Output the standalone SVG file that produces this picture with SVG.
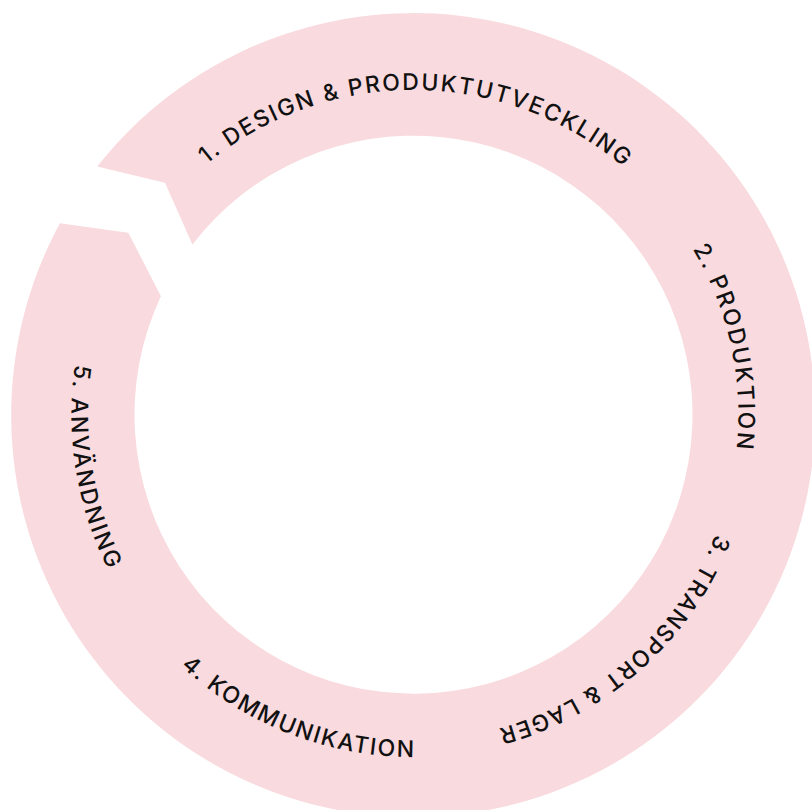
<svg xmlns="http://www.w3.org/2000/svg" width="812" height="810" viewBox="0 0 812 810">
  <style>
    .ring { fill: #F9DADE; stroke: none; }
    .lbl { font-family: Inter, "Liberation Sans", Arial, sans-serif; font-size: 23px; font-weight: 500; fill: #111111; }
  </style>
  <defs>
    <path id="p1" d="M 206.6 164.2 A 325 325 0 0 1 696.2 255.0" fill="none"/>
    <path id="p2" d="M 692.8 249.1 A 325 325 0 0 1 694.8 577.5" fill="none"/>
    <path id="p3" d="M 715.7 534.1 A 325 325 0 0 1 413.3 740" fill="none"/>
    <path id="p4" d="M 180.9 665.9 A 342 342 0 0 0 530.3 736.4" fill="none"/>
    <path id="p5" d="M 75.1 364.4 A 342 342 0 0 0 193.5 677.0" fill="none"/>
  </defs>
  <g id="connectors">
    <path id="cycle-ring" class="ring" d="M 97.2 166.6 A 402 402 0 1 1 59.9 223.3 L 128.3 232.7 L 160.9 296.2 A 279 279 0 1 0 192.4 244.5 L 165 182.7 Z"/>
  </g>
  <g id="step1">
    <text class="lbl"><textPath href="#p1" textLength="452" lengthAdjust="spacing">1. DESIGN &amp; PRODUKTUTVECKLING</textPath></text>
  </g>
  <g id="step2">
    <text class="lbl"><textPath href="#p2" textLength="208" lengthAdjust="spacing">2. PRODUKTION</textPath></text>
  </g>
  <g id="step3">
    <text class="lbl"><textPath href="#p3" textLength="302" lengthAdjust="spacing">3. TRANSPORT &amp; LAGER</textPath></text>
  </g>
  <g id="step4">
    <text class="lbl"><textPath href="#p4" textLength="256" lengthAdjust="spacing">4. KOMMUNIKATION</textPath></text>
  </g>
  <g id="step5">
    <text class="lbl"><textPath href="#p5" textLength="211" lengthAdjust="spacing">5. ANVÄNDNING</textPath></text>
  </g>
</svg>
